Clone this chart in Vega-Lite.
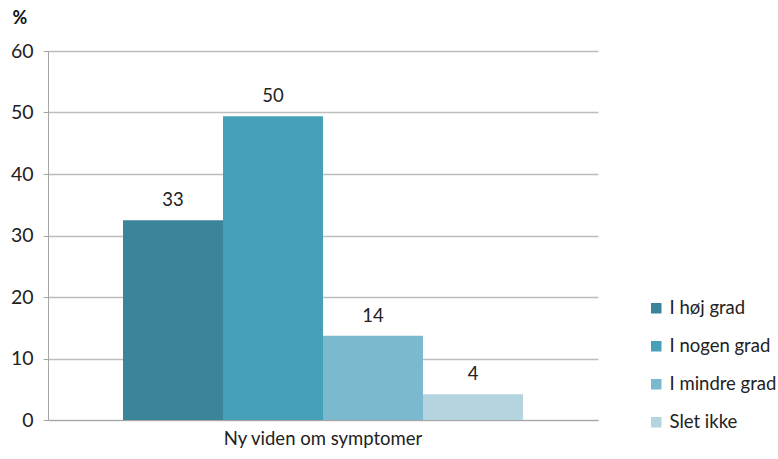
{
  "$schema": "https://vega.github.io/schema/vega-lite/v6.json",
  "width": 550,
  "height": 369,
  "autosize": {"type": "none"},
  "padding": {"left": 48, "top": 51, "right": 180, "bottom": 39},
  "background": "white",
  "config": {
    "font": "Lato",
    "view": {"stroke": null},
    "axis": {"labelFont": "Lato", "titleFont": "Lato"},
    "legend": {"labelFont": "Lato"}
  },
  "data": {
    "values": [
      {"kategori": "Ny viden om symptomer", "svar": "I høj grad", "pct": 32.5, "label": "33"},
      {"kategori": "Ny viden om symptomer", "svar": "I nogen grad", "pct": 49.4, "label": "50"},
      {"kategori": "Ny viden om symptomer", "svar": "I mindre grad", "pct": 13.7, "label": "14"},
      {"kategori": "Ny viden om symptomer", "svar": "Slet ikke", "pct": 4.2, "label": "4"}
    ]
  },
  "encoding": {
    "x": {
      "field": "kategori",
      "type": "nominal",
      "scale": {"paddingInner": 0, "paddingOuter": 0.1875},
      "axis": {
        "title": null,
        "labelAngle": 0,
        "labelFontSize": 18.5,
        "labelLimit": 0,
        "labelColor": "#222222",
        "labelPadding": 9,
        "domainColor": "#A6A6A6",
        "tickColor": "#A6A6A6",
        "ticks": false
      }
    },
    "xOffset": {
      "field": "svar",
      "type": "nominal",
      "sort": ["I høj grad", "I nogen grad", "I mindre grad", "Slet ikke"],
      "scale": {"paddingInner": 0, "paddingOuter": 0}
    },
    "y": {
      "field": "pct",
      "type": "quantitative",
      "scale": {"domain": [0, 60]},
      "axis": {
        "title": "%",
        "titleAngle": 0,
        "titleAlign": "left",
        "titleBaseline": "middle",
        "titleX": -36,
        "titleY": -33,
        "titleFontSize": 18,
        "titleFontWeight": "bold",
        "titleColor": "#111111",
        "values": [0, 10, 20, 30, 40, 50, 60],
        "labelFontSize": 19.5,
        "labelColor": "#222222",
        "labelPadding": 10,
        "tickSize": 5,
        "tickColor": "#A6A6A6",
        "domainColor": "#A6A6A6",
        "gridColor": "#BDBDBD",
        "gridWidth": 1.3
      }
    }
  },
  "layer": [
    {
      "mark": {"type": "bar"},
      "encoding": {
        "color": {
          "field": "svar",
          "type": "nominal",
          "sort": ["I høj grad", "I nogen grad", "I mindre grad", "Slet ikke"],
          "scale": {
            "domain": ["I høj grad", "I nogen grad", "I mindre grad", "Slet ikke"],
            "range": ["#3A8599", "#46A0B8", "#7BBACE", "#B4D5E0"]
          },
          "legend": {
            "title": null,
            "orient": "none",
            "legendX": 599,
            "legendY": 248,
            "symbolType": "square",
            "symbolSize": 110,
            "symbolStrokeWidth": 0,
            "labelFontSize": 18.5,
            "labelLimit": 0,
            "labelColor": "#222222",
            "labelOffset": 4,
            "rowPadding": 19
          }
        }
      }
    },
    {
      "mark": {"type": "text", "dy": -20, "fontSize": 18.5, "color": "#222222", "font": "Lato"},
      "encoding": {
        "text": {"field": "label", "type": "nominal"}
      }
    }
  ]
}
